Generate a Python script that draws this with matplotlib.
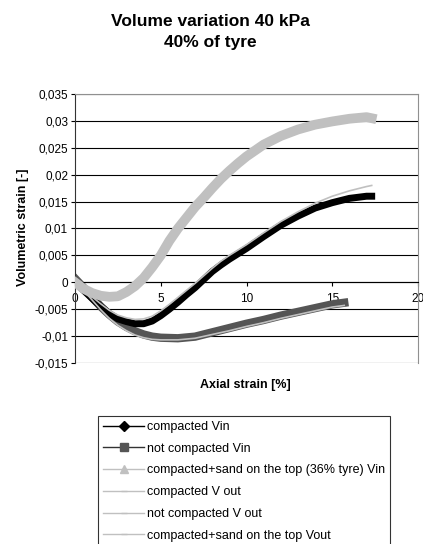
import matplotlib
matplotlib.use("Agg")
import matplotlib.pyplot as plt
from matplotlib.lines import Line2D
from matplotlib.ticker import FuncFormatter

plt.rcParams["font.family"] = ["Liberation Sans", "DejaVu Sans"]

# Axial strain [%] / volumetric strain [-] readings
x_comp = [0, 0.5, 1, 1.5, 2, 2.5, 3, 3.5, 4, 4.5, 5, 5.5, 6, 6.5, 7, 7.5,
          8, 8.5, 9, 9.5, 10, 11, 12, 13, 14, 15, 16, 17, 17.3]
y_comp_vin = [0, -0.0015, -0.003, -0.0045, -0.0058, -0.0068, -0.0073, -0.0077,
              -0.0077, -0.0072, -0.0062, -0.0050, -0.0037, -0.0023, -0.0010,
              0.0005, 0.0020, 0.0032, 0.0043, 0.0053, 0.0063, 0.0085, 0.0106,
              0.0123, 0.0138, 0.0148, 0.0156, 0.0160, 0.0160]
y_comp_vout = [0, -0.0013, -0.0027, -0.0040, -0.0052, -0.0061, -0.0066, -0.0069,
               -0.0068, -0.0063, -0.0053, -0.0041, -0.0028, -0.0015, -0.0002,
               0.0012, 0.0026, 0.0039, 0.0050, 0.0060, 0.0070, 0.0092, 0.0113,
               0.0131, 0.0147, 0.0160, 0.0170, 0.0178, 0.0180]

x_nc = [0, 0.5, 1, 1.5, 2, 2.5, 3, 3.5, 4, 4.5, 5, 6, 7, 8, 9, 10, 11, 12,
        13, 14, 15, 15.7]
y_nc_vin = [0.0007, -0.0010, -0.0028, -0.0045, -0.0060, -0.0073, -0.0083,
            -0.0091, -0.0097, -0.0101, -0.0103, -0.0104, -0.0101, -0.0093,
            -0.0085, -0.0077, -0.0070, -0.0062, -0.0055, -0.0048, -0.0041,
            -0.0038]
y_nc_vout = [0, -0.0015, -0.0033, -0.0051, -0.0067, -0.0080, -0.0090, -0.0098,
             -0.0103, -0.0106, -0.0107, -0.0107, -0.0104, -0.0097, -0.0090,
             -0.0082, -0.0075, -0.0067, -0.0060, -0.0053, -0.0046, -0.0043]

x_sand = [0, 0.5, 1, 1.5, 2, 2.5, 3, 3.5, 4, 4.5, 5, 5.5, 6, 6.5, 7, 7.5,
          8, 8.5, 9, 9.5, 10, 11, 12, 13, 14, 15, 16, 17, 17.3]
y_sand_vin = [0, -0.0012, -0.0020, -0.0025, -0.0027, -0.0026, -0.0018, -0.0007,
              0.0008, 0.0028, 0.0050, 0.0077, 0.0100, 0.0120, 0.0140, 0.0157,
              0.0175, 0.0192, 0.0207, 0.0221, 0.0234, 0.0256, 0.0272, 0.0284,
              0.0293, 0.0299, 0.0304, 0.0307, 0.0305]
y_sand_vout = [0, -0.0011, -0.0019, -0.0024, -0.0026, -0.0025, -0.0017, -0.0006,
               0.0009, 0.0029, 0.0051, 0.0077, 0.0100, 0.0120, 0.0139, 0.0156,
               0.0174, 0.0191, 0.0206, 0.0220, 0.0233, 0.0255, 0.0271, 0.0283,
               0.0292, 0.0298, 0.0303, 0.0306, 0.0304]

labels = ["compacted Vin", "not compacted Vin",
          "compacted+sand on the top (36% tyre) Vin", "compacted V out",
          "not compacted V out", "compacted+sand on the top Vout"]

BLACK = "#000000"
DARK = "#555555"
LIGHT = "#c0c0c0"

fig = plt.figure(figsize=(4.23, 5.44), dpi=100)
ax = fig.add_axes([75 / 423, 1 - 363 / 544, 343 / 423, 269 / 544])

# thick bands for the densely sampled Vin series
ax.plot(x_comp, y_comp_vin, color=BLACK, lw=5, solid_joinstyle="round", zorder=3)
ax.plot(x_nc, y_nc_vin, color=DARK, lw=6, solid_joinstyle="round", zorder=2)
ax.plot(x_sand, y_sand_vin, color=LIGHT, lw=7, solid_joinstyle="round", zorder=4)
# thin Vout lines on top
ax.plot(x_comp, y_comp_vout, color=LIGHT, lw=1.2, zorder=5)
ax.plot(x_nc, y_nc_vout, color=LIGHT, lw=1.2, zorder=5)
ax.plot(x_sand, y_sand_vout, color=LIGHT, lw=1.2, zorder=5)

ax.set_xlim(0, 20)
ax.set_ylim(-0.015, 0.035)
ax.set_xticks([0, 5, 10, 15, 20])
ax.set_yticks([-0.015 + 0.005 * i for i in range(11)])


def comma(v, pos):
    s = "%g" % round(v, 4)
    return "0" if s in ("0", "-0") else s.replace(".", ",")


ax.yaxis.set_major_formatter(FuncFormatter(comma))
ax.grid(axis="y", color="black", lw=0.8)
ax.set_axisbelow(True)

ax.spines["bottom"].set_position(("data", 0))
ax.spines["bottom"].set_color("black")
ax.spines["left"].set_color("#333333")
ax.spines["right"].set_color("#909090")
ax.spines["top"].set_color("#909090")
ax.tick_params(axis="both", labelsize=8.5, length=3, width=0.8, direction="out")
ax.tick_params(axis="x", pad=5)
ax.tick_params(axis="y", pad=2)

fig.text(210 / 423, 1 - 21 / 544, "Volume variation 40 kPa", ha="center",
         va="center", fontsize=12.5, fontweight="bold")
fig.text(210 / 423, 1 - 43 / 544, "40% of tyre", ha="center", va="center",
         fontsize=12.5, fontweight="bold")
fig.text(245 / 423, 1 - 385 / 544, "Axial strain [%]", ha="center",
         va="center", fontsize=9, fontweight="bold")
fig.text(23 / 423, 1 - 227 / 544, "Volumetric strain [-]", ha="center",
         va="center", rotation=90, fontsize=9, fontweight="bold")

handles = [
    Line2D([], [], color=BLACK, lw=1, marker="D", ms=5),
    Line2D([], [], color="#333333", lw=1, marker="s", ms=6, mfc=DARK, mec=DARK),
    Line2D([], [], color=LIGHT, lw=1, marker="^", ms=6),
    Line2D([], [], color=LIGHT, lw=1, marker="_", ms=4),
    Line2D([], [], color=LIGHT, lw=1, marker="_", ms=4),
    Line2D([], [], color=LIGHT, lw=1, marker="_", ms=4),
]
leg = fig.legend(handles, labels, loc="upper left",
                 bbox_to_anchor=(98 / 423, 1 - 416 / 544), borderaxespad=0,
                 fontsize=9, frameon=True, fancybox=False, edgecolor="black",
                 handlelength=3.3, handletextpad=0.2, labelspacing=0.78,
                 borderpad=0.4)
leg.get_frame().set_linewidth(0.8)

fig.savefig("out.png", dpi=100)
